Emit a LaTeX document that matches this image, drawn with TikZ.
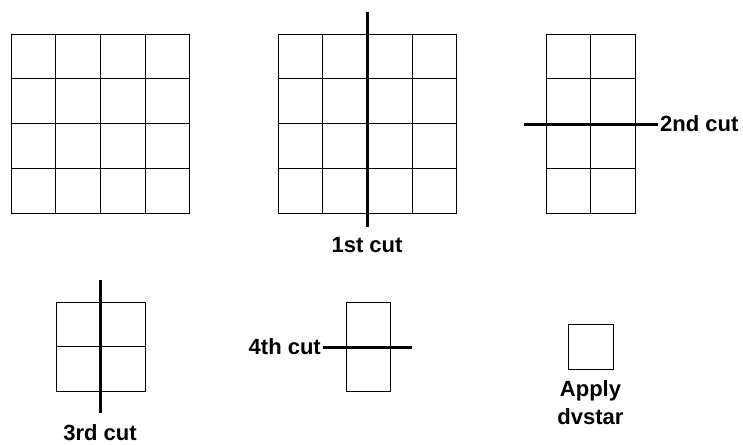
\documentclass[tikz,border=0pt]{standalone}
\usepackage{fontspec}
\setmainfont{Liberation Sans}
\usetikzlibrary{positioning}
\tikzstyle{gridline} = [line width=1pt, black]
\tikzstyle{cut} = [line width=3pt, black]
\tikzstyle{cutlabel} = [inner sep=2pt, font=\fontsize{22}{28}\selectfont\bfseries]

\begin{document}
\begin{tikzpicture}[x=1pt, y=-1pt]
				\useasboundingbox (0,0) rectangle (743,444);

				% 4x4 block
				\begin{scope}[shift={(11,34)}]
					\draw [gridline] (0,0) grid[step=44.75pt] (179,179);
				\end{scope}

				% 4x4 block, first cut
				\begin{scope}[shift={(278,34)}]
					\draw [gridline] (0,0) grid[step=44.75pt] (179,179);
				\end{scope}
				\coordinate (c1a) at (367,12);
				\coordinate (c1b) at (367,227);
				\node (cut1) [cutlabel] at (367,245) {1st cut};
				\draw [cut] (c1a) -- (c1b);

				% 2x4 block, second cut
				\begin{scope}[shift={(546,34)}]
					\draw [gridline] (0,0) grid[step=44.75pt] (89.5,179);
				\end{scope}
				\coordinate (c2a) at (524,124);
				\node (cut2) [cutlabel, anchor=west] at (658,124) {2nd cut};
				\draw [cut] (c2a) -- (cut2.west);

				% 2x2 block, third cut
				\begin{scope}[shift={(56,302)}]
					\draw [gridline] (0,0) grid[step=44.75pt] (89.5,89.5);
				\end{scope}
				\coordinate (c3a) at (100,280);
				\coordinate (c3b) at (100,413);
				\node (cut3) [cutlabel] at (100,433) {3rd cut};
				\draw [cut] (c3a) -- (c3b);

				% 1x2 block, fourth cut
				\begin{scope}[shift={(346,302)}]
					\draw [gridline] (0,0) grid[step=44.75pt] (44.75,89.5);
				\end{scope}
				\coordinate (c4b) at (412,347);
				\node (cut4) [cutlabel, anchor=east] at (323,347) {4th cut};
				\draw [cut] (cut4.east) -- (c4b);

				% single cell
				\node (single) [draw, gridline, minimum size=45pt, inner sep=0pt] at (590.5,346.5) {};
				\node (apply) [cutlabel, align=center, below=9pt of single] {Apply\\dvstar};

			\end{tikzpicture}
\end{document}
